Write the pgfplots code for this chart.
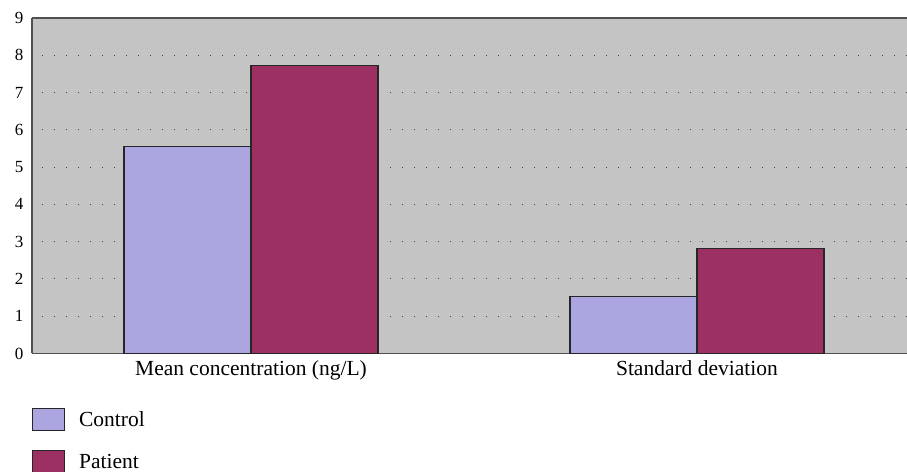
\documentclass[border=0pt]{standalone}
\usepackage{pgfplots}
\pgfplotsset{compat=1.18}
\usepackage{fontspec}
\setmainfont{Liberation Serif}

\definecolor{plotbg}{HTML}{C3C4C3}
\definecolor{ctrl}{HTML}{ABA5E0}
\definecolor{pat}{HTML}{9C3062}
\definecolor{frame}{HTML}{505050}

\begin{document}
\begin{tikzpicture}
\begin{axis}[
    scale only axis,
    width=875pt, height=335.5pt,
    xmin=-0.491, xmax=1.471,
    ymin=0, ymax=9,
    ytick={0,1,...,9},
    xtick={0,1},
    xticklabels={Mean concentration (ng/L), Standard deviation},
    axis x line=box,
    axis y line*=left,
    axis line style={frame, line width=1.6pt},
    major tick length=0pt,
    /pgf/number format/assume math mode=true,
    yticklabel style={font=\fontsize{17}{19}\selectfont, xshift=-5pt},
    xticklabel style={font=\fontsize{21.5}{24}\selectfont, yshift=-4pt},
    ymajorgrids,
    grid style={draw=black!75, line width=1pt, dash pattern=on 1pt off 11pt, dash phase=-10pt},
    axis background/.style={fill=plotbg},
    ybar=0pt,
    bar width=127pt,
    legend style={at={(0,-0.163)}, anchor=north west, draw=none, fill=none,
        inner sep=0pt, row sep=19pt, font=\fontsize{21.5}{24}\selectfont,
        legend cell align=left,
        nodes={inner sep=0pt, anchor=west}},
    legend image code/.code={\draw[#1, draw=black!85, line width=0.9pt] (0pt,-11pt) rectangle (32pt,11pt);},
    legend columns=1,
    /tikz/every odd column/.append style={column sep=14pt},
]
\addplot[fill=ctrl, draw=black!85, line width=1.1pt] coordinates {(0,5.55) (1,1.53)};
\addplot[fill=pat, draw=black!85, line width=1.1pt] coordinates {(0,7.72) (1,2.81)};
\legend{Control, Patient}
\end{axis}
\pgfresetboundingbox
\path[use as bounding box] ([xshift=-32pt,yshift=-118.5pt]current axis.south west) rectangle ([yshift=18pt]current axis.north east);
\end{tikzpicture}
\end{document}
